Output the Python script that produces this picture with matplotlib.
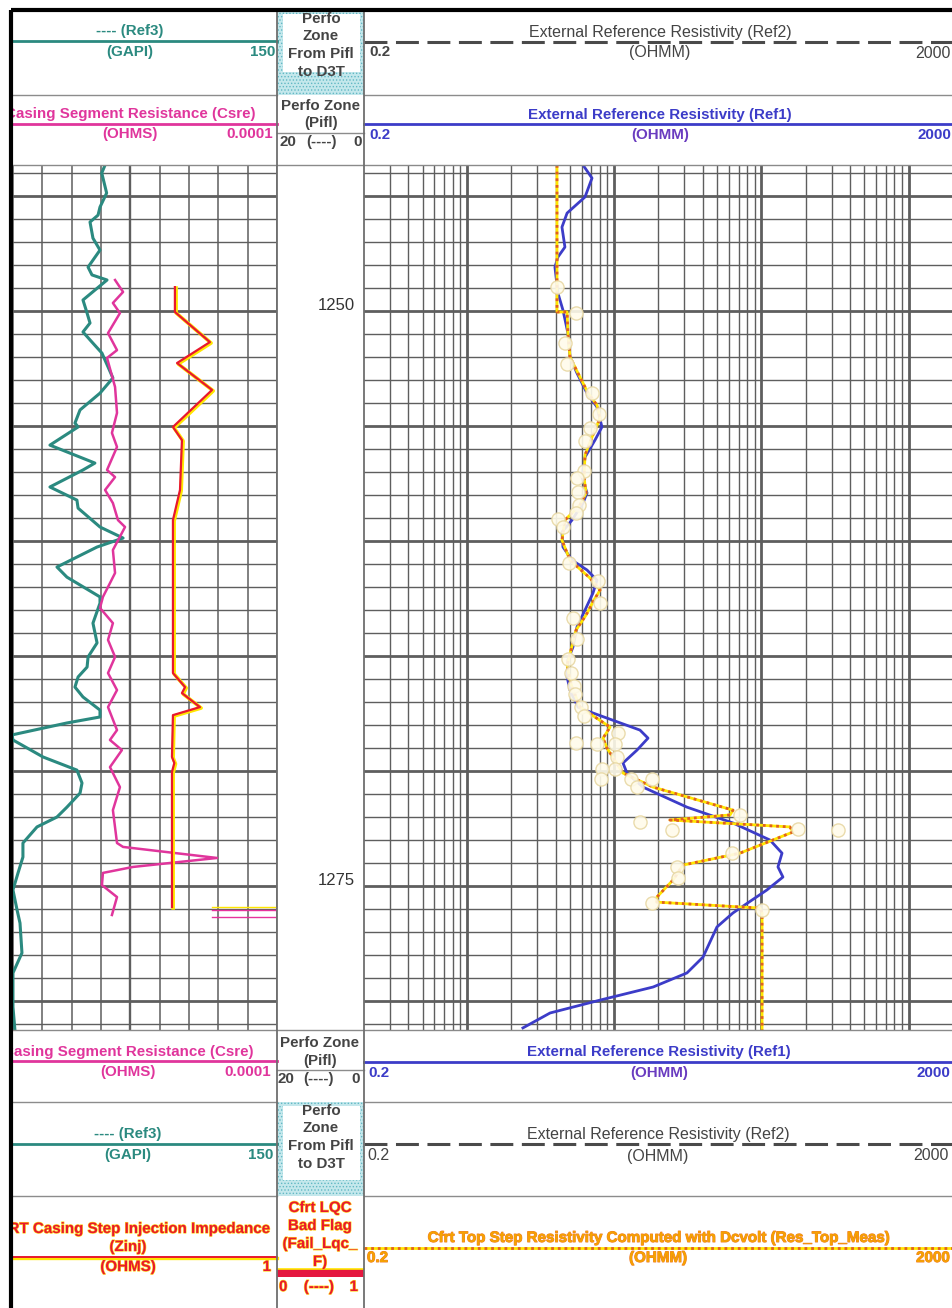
import matplotlib
matplotlib.use("Agg")
import matplotlib.pyplot as plt
import matplotlib.patheffects as pe
from matplotlib.patches import Rectangle

plt.rcParams['font.family'] = ['Liberation Sans', 'DejaVu Sans']
plt.rcParams['hatch.linewidth'] = 0.6

# depth window shown in the log (m)
top_depth = 1243.65
bottom_depth = 1281.26
depth_labels = [1250, 1275]

# Ref3 gamma ray (GAPI), teal curve of the left track
gr_depth = [1243.65, 1244.0, 1244.87, 1245.48, 1245.83, 1246.13, 1246.83, 1247.35, 1248.09, 1248.43,
            1248.65, 1249.52, 1250.09, 1250.52, 1250.91, 1251.35, 1251.83, 1252.91, 1253.57, 1254.30,
            1254.87, 1255.04, 1255.83, 1256.61, 1256.91, 1257.65, 1258.22, 1258.57, 1259.39, 1259.87,
            1260.26, 1261.13, 1261.57, 1262.43, 1262.70, 1263.57, 1264.43, 1265.04, 1265.48, 1265.91,
            1266.35, 1266.78, 1267.35, 1267.65, 1267.91, 1268.43, 1268.65, 1269.39, 1269.96, 1270.52,
            1270.96, 1271.57, 1272.0, 1272.43, 1273.13, 1273.74, 1274.43, 1275.17, 1276.04, 1276.61,
            1277.91, 1278.78, 1280.26, 1281.26]
gr_value = [62.1, 60.4, 62.9, 59.5, 58.5, 54.4, 55.9, 59.5, 53.4, 55.4,
            63.1, 50.8, 52.9, 54.4, 50.8, 55.4, 60.5, 66.1, 59.5, 49.3,
            46.7, 48.3, 33.9, 56.9, 50.8, 33.9, 47.7, 48.3, 59.5, 71.3,
            58.0, 37.5, 42.6, 59.5, 59.5, 55.9, 58.0, 53.4, 52.9, 48.3,
            46.7, 50.8, 59.5, 59.5, 42.6, 14.5, 15.0, 30.4, 47.7, 50.3,
            49.3, 42.6, 37.5, 27.3, 20.1, 20.1, 17.6, 15.0, 17.1, 18.6,
            19.6, 15.0, 15.0, 16.0]

# Csre casing segment resistance, in left-track grid units (magenta)
cs_depth = [1248.65, 1249.17, 1249.65, 1250.09, 1250.96, 1251.70, 1252.04, 1253.30, 1254.43, 1255.30,
            1255.91, 1256.91, 1257.22, 1257.78, 1258.35, 1259.09, 1259.39, 1260.39, 1261.39, 1261.83,
            1262.43, 1262.91, 1263.57, 1264.30, 1265.04, 1265.74, 1266.48, 1267.22, 1268.22, 1268.65,
            1269.09, 1269.83, 1270.70, 1271.70, 1273.13, 1273.30, 1273.78, 1274.17, 1274.43, 1274.96,
            1275.48, 1276.26]
cs_value = [67.2, 71.3, 66.1, 69.7, 63.6, 68.2, 63.1, 67.2, 68.2, 65.6,
            68.2, 63.1, 67.2, 62.1, 66.1, 68.7, 72.3, 66.1, 67.2, 64.6,
            61.0, 59.5, 66.1, 63.6, 67.2, 63.6, 68.2, 63.6, 68.2, 64.6,
            70.7, 64.6, 69.7, 66.1, 68.2, 71.3, 119.3, 76.4, 61.0, 60.5,
            68.2, 65.6]

# Zinj step injection impedance, in left-track grid units (red on yellow)
zi_depth = [1248.96, 1250.04, 1251.35, 1252.26, 1253.43, 1255.04, 1255.61, 1257.78, 1259.09, 1265.74,
            1266.35, 1266.61, 1267.22, 1267.57, 1269.39, 1269.65, 1270.04, 1275.91]
zi_value = [97.8, 97.8, 115.7, 98.9, 116.8, 96.8, 101.4, 100.4, 96.8, 96.8,
            103.0, 101.4, 110.6, 96.8, 96.3, 97.5, 96.3, 96.3]

# short wrap-around stubs at the bottom right of the left track
stub_depth = [1275.92, 1276.05, 1276.35]
stub_color = ['#ffe600', '#e6339c', '#e6339c']

# Ref1 external reference resistivity (OHMM), blue curve
ref1_depth = [1243.65, 1244.22, 1245.04, 1245.74, 1246.35, 1247.22, 1247.65, 1248.09, 1249.22, 1249.96,
              1250.96, 1252.0, 1252.70, 1253.57, 1254.17, 1255.04, 1255.61, 1256.35, 1257.22, 1257.91,
              1258.35, 1259.09, 1259.61, 1260.26, 1260.83, 1261.26, 1261.70, 1262.26, 1263.0, 1263.74,
              1264.61, 1265.17, 1265.91, 1266.48, 1267.22, 1267.43, 1268.22, 1268.57, 1269.09, 1269.65,
              1270.09, 1270.70, 1271.57, 1272.26, 1273.0, 1273.57, 1274.17, 1274.61, 1275.17, 1276.17,
              1276.78, 1278.09, 1278.78, 1279.39, 1279.96, 1280.52, 1281.17]
ref1_value = [6.14, 7.07, 6.34, 4.79, 4.42, 4.63, 4.15, 3.96, 4.15, 4.49,
              4.85, 5.01, 5.59, 6.54, 7.64, 8.26, 7.41, 6.34, 6.04, 6.54,
              6.14, 5.17, 4.42, 4.49, 5.17, 6.54, 7.64, 7.18, 6.34, 5.59,
              5.25, 4.85, 4.79, 5.01, 5.68, 6.85, 14.97, 16.98, 14.29, 11.48,
              12.22, 15.70, 31.2, 64.1, 114.3, 138, 129.5, 140, 109, 64.1,
              49.9, 40.1, 31.2, 18.4, 8.02, 3.67, 2.40]

# Res_Top_Meas, top step resistivity (OHMM), orange dotted
rt_depth = [1243.65, 1250.04, 1250.04, 1250.96, 1252.0, 1252.70, 1253.57, 1254.09, 1254.65, 1255.48,
            1256.26, 1257.22, 1257.91, 1258.43, 1259.09, 1259.96, 1260.83, 1261.61, 1262.13, 1262.57,
            1263.22, 1263.87, 1264.74, 1265.39, 1266.04, 1266.35, 1267.22, 1268.09, 1268.57, 1269.0,
            1270.09, 1270.70, 1271.70, 1271.91, 1272.13, 1272.43, 1272.65, 1273.57, 1274.09, 1274.74,
            1275.48, 1275.70, 1275.96, 1276.17, 1281.26]
rt_value = [4.09, 4.09, 4.79, 4.85, 5.01, 5.68, 6.65, 7.64, 8.02, 7.07,
            6.34, 6.24, 6.44, 5.86, 4.63, 4.42, 5.01, 6.85, 8.02, 7.29,
            6.44, 5.51, 5.09, 4.79, 5.01, 5.17, 5.86, 9.38, 8.40, 8.93,
            11.48, 18.4, 64.1, 61.2, 23.9, 156, 164, 71.5, 29.3, 25.1,
            19.5, 19.5, 97.8, 101, 101]

# individual station measurements (circles)
pt_depth = [1248.96, 1250.09, 1251.39, 1252.30, 1253.57, 1254.48, 1255.09, 1255.65, 1256.96, 1257.26,
            1257.87, 1258.43, 1258.78, 1259.04, 1259.39, 1260.96, 1261.74, 1262.70, 1263.35, 1264.26,
            1265.13, 1265.74, 1266.30, 1266.65, 1267.22, 1267.61, 1268.35, 1268.83, 1268.78, 1268.83,
            1269.39, 1269.91, 1269.91, 1270.35, 1270.35, 1270.35, 1270.70, 1272.22, 1272.57, 1271.91,
            1272.52, 1272.57, 1273.57, 1274.17, 1274.65, 1275.74, 1276.04]
pt_value = [4.09, 5.51, 4.63, 4.79, 7.07, 7.89, 6.85, 6.34, 6.24, 5.59,
            5.68, 5.77, 5.51, 4.15, 4.49, 4.93, 7.76, 8.02, 5.25, 5.59,
            4.85, 5.09, 5.33, 5.42, 5.96, 6.24, 10.6, 10.1, 5.51, 7.64,
            10.5, 10.1, 8.26, 8.14, 13.0, 18.1, 14.3, 14.97, 24.7, 71.5,
            177, 331, 63.1, 26.7, 27.1, 18.1, 101]

teal = '#2b8a80'
magenta = '#e0359c'
blue = '#3c3cc8'
purple = '#6a3cc0'
gray_txt = '#444444'
red = '#e8182e'
yellow = '#ffe600'
orange = '#f5a300'
grid_c = '#5e5e5e'

W, H = 953, 1308
fig = plt.figure(figsize=(W / 100, H / 100), dpi=100)


def px_axes(x0, y0, x1, y1, **kw):
    return fig.add_axes([x0 / W, 1 - y1 / H, (x1 - x0) / W, (y1 - y0) / H], **kw)


# ---- left track (GR / Csre / Zinj)
ax_l = px_axes(11, 165, 277, 1030)
ax_l.set_xlim(14, 150)
ax_l.set_ylim(bottom_depth, top_depth)
for v in range(15, 151, 15):
    ax_l.axvline(v, color=grid_c, lw=1.7 if v == 75 else 1.1, zorder=1)
for d in range(1244, 1282):
    ax_l.axhline(d, color=grid_c, lw=2.0 if d % 5 == 0 else 1.0, zorder=1)
ax_l.plot(gr_value, gr_depth, color=teal, lw=2.2, zorder=3, solid_joinstyle='round')
ax_l.plot(cs_value, cs_depth, color=magenta, lw=1.8, zorder=3, solid_joinstyle='round')
ax_l.plot([v + 0.6 for v in zi_value], [d + 0.04 for d in zi_depth], color=yellow, lw=2.6, zorder=3)
ax_l.plot(zi_value, zi_depth, color=red, lw=1.6, zorder=4)
for d, c in zip(stub_depth, stub_color):
    ax_l.plot([117, 150], [d, d], color=c, lw=1.0, zorder=3)

# ---- depth track
ax_d = px_axes(277, 165, 364, 1030)
ax_d.set_xlim(0, 1)
ax_d.set_ylim(bottom_depth, top_depth)
for d in depth_labels:
    ax_d.text(0.9, d - 0.03, str(d), ha='right', va='baseline', fontsize=12, color='#333333')

# ---- right track (log resistivity)
ax_r = px_axes(364, 165, 953, 1030)
ax_r.set_xscale('log')
ax_r.set_xlim(0.2, 2000)
ax_r.set_ylim(bottom_depth, top_depth)
for dec in [0.1, 1, 10, 100, 1000]:
    for m in range(1, 10):
        v = m * dec
        if 0.2 < v < 2000:
            ax_r.axvline(v, color=grid_c, lw=2.0 if m == 1 else 1.0, zorder=1)
for d in range(1244, 1282):
    ax_r.axhline(d, color=grid_c, lw=2.0 if d % 5 == 0 else 1.0, zorder=1)
ax_r.plot(ref1_value, ref1_depth, color=blue, lw=2.0, zorder=3, solid_joinstyle='round')
ax_r.plot(rt_value, rt_depth, color=yellow, lw=2.0, zorder=4)
ax_r.plot(rt_value, rt_depth, color='#e06020', lw=2.0, ls=(0, (1, 1.4)), zorder=4)
ax_r.scatter(pt_value, pt_depth, s=90, facecolor='#fffbea', edgecolor='#e8d8a4', lw=1.0,
             alpha=0.9, zorder=5)

for ax in (ax_l, ax_d, ax_r):
    ax.set_xticks([])
    ax.set_yticks([])
    ax.set_xticks([], minor=True)
    for s in ax.spines.values():
        s.set_visible(False)
    ax.patch.set_alpha(0)

# ---- overlay for headers and borders (pixel coordinates)
ov = fig.add_axes([0, 0, 1, 1], zorder=10)
ov.set_xlim(0, W)
ov.set_ylim(H, 0)
ov.axis('off')
ov.patch.set_alpha(0)

glow_y = [pe.withStroke(linewidth=0.9, foreground='#ffd21e')]
glow_o = [pe.withStroke(linewidth=0.7, foreground='#f07828')]


def txt(x, y, s, color, ha='center', weight='bold', size=10.9, fx=None):
    ov.text(x, y, s, color=color, ha=ha, va='center', fontsize=size, fontweight=weight,
            path_effects=fx)


def hline(y, x0, x1, color='#8c8c8c', lw=1.0, **kw):
    ov.plot([x0, x1], [y, y], color=color, lw=lw, **kw)


def perfo_box(y0, y1, yt):
    ov.add_patch(Rectangle((277, y0), 87, y1 - y0, facecolor='#c4e8ec', edgecolor='#62b8c4',
                           hatch='.....', lw=0))
    ov.add_patch(Rectangle((283, y0 + 4), 77, yt - y0, facecolor='white', lw=0))
    for i, s in enumerate(['Perfo', 'Zone', 'From Pifl', 'to D3T']):
        txt(321, y0 + 9 + 17.5 * i, s, gray_txt)


# separators
for y in [95, 1102, 1196]:
    hline(y, 11, 277)
    hline(y, 364, 953)
hline(165, 11, 953, color='#8a8a8a')
hline(1030, 11, 953, color='#8a8a8a')

# top header row 1
perfo_box(10, 95, 68)
hline(41, 11, 277, color=teal, lw=2.0)
txt(130, 31, '---- (Ref3)', teal)
txt(130, 52, '(GAPI)', teal)
txt(275, 52, '150', teal, ha='right')
hline(42, 364, 953, color='#4a4a4a', lw=2.2, dashes=(7.5, 2.8))
txt(660, 32, 'External Reference Resistivity (Ref2)', gray_txt, weight='normal', size=11.5)
txt(369, 52, '0.2', gray_txt, ha='left')
txt(660, 53, '(OHMM)', gray_txt, weight='normal', size=11.5)
txt(951, 53, '2000', gray_txt, ha='right', weight='normal', size=11.5)

# top header row 2
hline(124, 11, 277, color=magenta, lw=2.0)
txt(256, 114, 'Casing Segment Resistance (Csre)', magenta, ha='right')
txt(130, 134, '(OHMS)', magenta)
txt(273, 134, '0.0001', magenta, ha='right')
txt(321, 106, 'Perfo Zone', gray_txt)
txt(321, 123, '(Pifl)', gray_txt)
hline(133, 277, 364)
txt(280, 142, '20', gray_txt, ha='left')
txt(322, 142, '(----)', gray_txt)
txt(362, 142, '0', gray_txt, ha='right')
hline(124, 364, 953, color=blue, lw=2.0)
txt(660, 115, 'External Reference Resistivity (Ref1)', blue)
txt(369, 135, '0.2', blue, ha='left')
txt(660, 135, '(OHMM)', purple)
txt(951, 135, '2000', blue, ha='right')

# bottom header row A
hline(1061, 11, 277, color=magenta, lw=2.0)
txt(254, 1052, 'Casing Segment Resistance (Csre)', magenta, ha='right')
txt(128, 1072, '(OHMS)', magenta)
txt(271, 1072, '0.0001', magenta, ha='right')
txt(320, 1043, 'Perfo Zone', gray_txt)
txt(320, 1061, '(Pifl)', gray_txt)
hline(1070, 277, 364)
txt(278, 1079, '20', gray_txt, ha='left')
txt(319, 1079, '(----)', gray_txt)
txt(360, 1079, '0', gray_txt, ha='right')
hline(1062, 364, 953, color=blue, lw=2.0)
txt(659, 1052, 'External Reference Resistivity (Ref1)', blue)
txt(368, 1073, '0.2', blue, ha='left')
txt(659, 1073, '(OHMM)', purple)
txt(950, 1073, '2000', blue, ha='right')

# bottom header row B
perfo_box(1102, 1196, 1176)
hline(1144, 11, 277, color=teal, lw=2.0)
txt(128, 1134, '---- (Ref3)', teal)
txt(128, 1155, '(GAPI)', teal)
txt(273, 1155, '150', teal, ha='right')
hline(1144, 364, 953, color='#4a4a4a', lw=2.2, dashes=(7.5, 2.8))
txt(658, 1135, 'External Reference Resistivity (Ref2)', gray_txt, weight='normal', size=11.5)
txt(367, 1156, '0.2', gray_txt, ha='left', weight='normal', size=11.5)
txt(658, 1156, '(OHMM)', gray_txt, weight='normal', size=11.5)
txt(949, 1156, '2000', gray_txt, ha='right', weight='normal', size=11.5)

# bottom header row C
hline(1258, 11, 277, color=yellow, lw=2.4)
hline(1257, 11, 277, color=red, lw=1.4)
txt(270, 1229, 'RT Casing Step Injection Impedance', red, ha='right', fx=glow_y)
txt(128, 1247, '(Zinj)', red, fx=glow_y)
txt(128, 1267, '(OHMS)', red, fx=glow_y)
txt(271, 1267, '1', red, ha='right', fx=glow_y)
for i, s in enumerate(['Cfrt LQC', 'Bad Flag', '(Fail_Lqc_', 'F)']):
    txt(320, 1208 + 18 * i, s, red, fx=glow_y)
ov.add_patch(Rectangle((277, 1269), 87, 8, facecolor='#e5173f', edgecolor='none'))
hline(1269, 277, 364, color=yellow, lw=1.2)
txt(279, 1287, '0', red, ha='left', fx=glow_y)
txt(319, 1287, '(----)', red, fx=glow_y)
txt(358, 1287, '1', red, ha='right', fx=glow_y)
hline(1248, 364, 953, color=yellow, lw=2.0)
hline(1248, 364, 953, color='#e06020', lw=2.0, ls=(0, (1, 1.4)))
txt(658, 1238, 'Cfrt Top Step Resistivity Computed with Dcvolt (Res_Top_Meas)', orange, fx=glow_o)
txt(367, 1258, '0.2', orange, ha='left', fx=glow_o)
txt(658, 1258, '(OHMM)', orange, fx=glow_o)
txt(950, 1258, '2000', orange, ha='right', fx=glow_o)

# track separators, page border and left mask
for x in [277, 364]:
    ov.plot([x, x], [10, H], color='#6e6e6e', lw=1.3)
ov.add_patch(Rectangle((0, 0), 11, H, facecolor='white', edgecolor='none', zorder=20))
ov.plot([11, 953], [10, 10], color='black', lw=3, zorder=21, solid_capstyle='butt')
ov.plot([11, 11], [10, H], color='black', lw=3, zorder=21, solid_capstyle='butt')

fig.savefig('out.png', dpi=100)
